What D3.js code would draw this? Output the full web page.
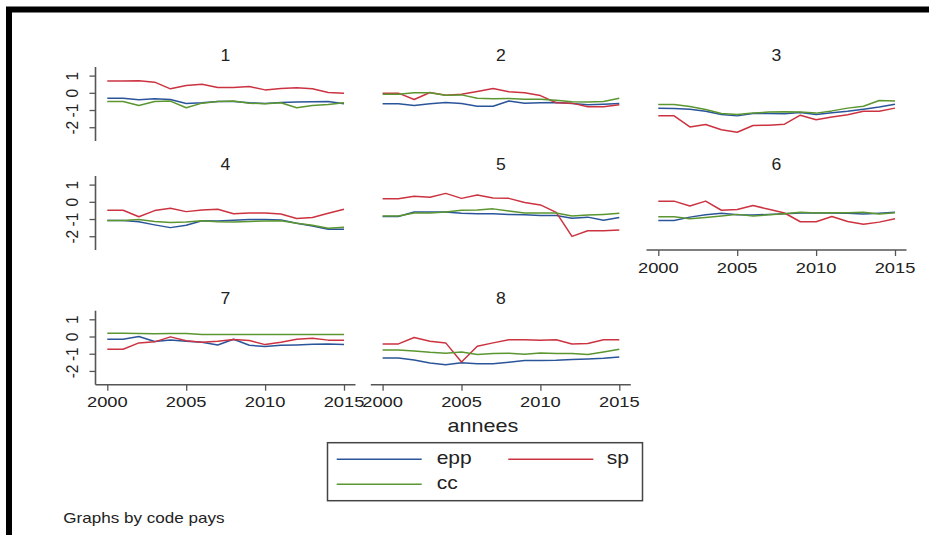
<!DOCTYPE html>
<html>
<head>
<meta charset="utf-8">
<script src="https://cdn.jsdelivr.net/npm/d3@7"></script>
<style>
  html, body { margin: 0; padding: 0; background: #fff; }
  svg { display: block; }
  text { font-family: "Liberation Sans", Arial, Helvetica, sans-serif; fill: #222; }
</style>
</head>
<body>
<svg id="chart" width="929" height="535"></svg>
<script>
// ---------- data ----------
const years = d3.range(2000, 2016);
const panelTitles = ["1", "2", "3", "4", "5", "6", "7", "8"];
const seriesNames = ["epp", "sp", "cc"];
const xTicks = [2000, 2005, 2010, 2015];
const yTicks = [-2, -1, 0, 1];

const epp = [
  [-0.31,-0.31,-0.41,-0.35,-0.39,-0.62,-0.58,-0.50,-0.50,-0.58,-0.62,-0.56,-0.54,-0.52,-0.50,-0.64],
  [-0.64,-0.64,-0.74,-0.64,-0.56,-0.62,-0.78,-0.78,-0.48,-0.60,-0.58,-0.56,-0.62,-0.70,-0.66,-0.62],
  [-0.89,-0.91,-0.95,-1.07,-1.26,-1.34,-1.20,-1.20,-1.22,-1.14,-1.26,-1.16,-1.07,-0.95,-0.83,-0.66],
  [-1.08,-1.08,-1.16,-1.34,-1.50,-1.36,-1.10,-1.12,-1.07,-1.03,-1.03,-1.05,-1.24,-1.40,-1.60,-1.60],
  [-0.85,-0.85,-0.59,-0.59,-0.59,-0.67,-0.69,-0.69,-0.73,-0.75,-0.79,-0.79,-0.95,-0.89,-1.07,-0.91],
  [-1.08,-1.08,-0.89,-0.75,-0.67,-0.75,-0.77,-0.73,-0.69,-0.65,-0.65,-0.65,-0.67,-0.71,-0.67,-0.61],
  [-0.16,-0.16, 0.00,-0.29,-0.20,-0.27,-0.33,-0.49,-0.16,-0.51,-0.58,-0.51,-0.49,-0.45,-0.43,-0.47],
  [-1.25,-1.25,-1.36,-1.54,-1.64,-1.52,-1.58,-1.58,-1.50,-1.40,-1.40,-1.38,-1.33,-1.31,-1.27,-1.19]
];
const sp = [
  [ 0.68, 0.68, 0.70, 0.62, 0.23, 0.43, 0.50, 0.31, 0.31, 0.37, 0.17, 0.25, 0.29, 0.23, 0.02,-0.02],
  [-0.02,-0.02,-0.39, 0.02,-0.14,-0.08, 0.08, 0.25, 0.06, 0.00,-0.16,-0.58,-0.60,-0.81,-0.81,-0.70],
  [-1.34,-1.34,-1.98,-1.84,-2.15,-2.29,-1.90,-1.88,-1.82,-1.30,-1.57,-1.41,-1.28,-1.07,-1.07,-0.89],
  [-0.49,-0.49,-0.87,-0.51,-0.37,-0.57,-0.47,-0.43,-0.69,-0.65,-0.65,-0.71,-0.97,-0.91,-0.67,-0.43],
  [ 0.18, 0.18, 0.32, 0.26, 0.49, 0.20, 0.39, 0.22, 0.20,-0.04,-0.18,-0.61,-2.01,-1.68,-1.68,-1.64],
  [ 0.04, 0.04,-0.24, 0.04,-0.49,-0.45,-0.22,-0.43,-0.65,-1.16,-1.16,-0.85,-1.14,-1.30,-1.18,-0.99],
  [-0.74,-0.74,-0.37,-0.31,-0.02,-0.25,-0.33,-0.27,-0.18,-0.23,-0.47,-0.33,-0.16,-0.10,-0.21,-0.21],
  [-0.43,-0.43,-0.06,-0.27,-0.37,-1.48,-0.57,-0.37,-0.19,-0.19,-0.21,-0.19,-0.43,-0.41,-0.19,-0.19]
];
const cc = [
  [-0.50,-0.50,-0.74,-0.50,-0.48,-0.87,-0.60,-0.50,-0.48,-0.60,-0.64,-0.58,-0.87,-0.74,-0.68,-0.58],
  [-0.08,-0.08, 0.00, 0.00,-0.14,-0.12,-0.31,-0.35,-0.33,-0.37,-0.37,-0.43,-0.52,-0.54,-0.50,-0.31],
  [-0.68,-0.68,-0.79,-0.97,-1.20,-1.26,-1.18,-1.12,-1.10,-1.12,-1.18,-1.05,-0.89,-0.78,-0.45,-0.47],
  [-1.08,-1.08,-1.03,-1.14,-1.20,-1.18,-1.10,-1.16,-1.18,-1.14,-1.12,-1.10,-1.24,-1.36,-1.54,-1.48],
  [-0.83,-0.83,-0.65,-0.65,-0.59,-0.49,-0.47,-0.41,-0.53,-0.65,-0.65,-0.65,-0.83,-0.77,-0.73,-0.67],
  [-0.87,-0.87,-0.99,-0.91,-0.83,-0.73,-0.83,-0.75,-0.69,-0.61,-0.65,-0.63,-0.63,-0.61,-0.71,-0.63],
  [ 0.19, 0.19, 0.18, 0.16, 0.18, 0.18, 0.12, 0.12, 0.12, 0.12, 0.12, 0.12, 0.12, 0.12, 0.12, 0.12],
  [-0.78,-0.78,-0.84,-0.92,-0.97,-0.90,-1.05,-0.99,-0.97,-1.03,-0.96,-0.99,-0.99,-1.05,-0.90,-0.74]
];
const seriesData = [epp, sp, cc];
const seriesColors = ["#2b559a", "#cc3340", "#5b9630"];

// ---------- layout ----------
const svg = d3.select("#chart");
const colX = [95.5, 370.8, 646.5];
const rowTop = [67, 176, 310.7];
const plotW = 260, plotH = 74;
const axisColor = "#555";
const fontStretch = 1.2;

function stretchedText(g, x, y, str, size, anchor, sx) {
  return g.append("text")
    .attr("transform", `translate(${x},${y}) scale(${sx || fontStretch},1)`)
    .attr("text-anchor", anchor || "middle")
    .attr("font-size", size)
    .text(str);
}

// outer frame
svg.append("rect")
  .attr("x", 9).attr("y", 9.5)
  .attr("width", 1000).attr("height", 600)
  .attr("fill", "none").attr("stroke", "#000").attr("stroke-width", 6);

const xScales = colX.map(cx => d3.scaleLinear().domain([2000, 2015]).range([cx + 11.8, cx + 248.5]));
const yScales = rowTop.map(t => d3.scaleLinear().domain([-2.8, 1.5]).range([t + plotH, t]));

// which panels show which axes
const showY = [true, false, false, true, false, false, true, false];
const showX = [false, false, false, false, false, true, true, true];

panelTitles.forEach((title, i) => {
  const r = Math.floor(i / 3), c = i % 3;
  const xs = xScales[c], ys = yScales[r];
  const g = svg.append("g");

  stretchedText(g, colX[c] + plotW / 2, rowTop[r] - 6.5, title, 16, "middle", 1.1);

  if (showY[i]) {
    const ya = g.append("g")
      .attr("transform", `translate(${colX[c]},0)`)
      .call(d3.axisLeft(ys).tickValues(yTicks).tickSize(6).tickFormat(d => String(d)));
    ya.select(".domain").attr("d", `M0,${rowTop[r]}V${rowTop[r] + plotH}`)
      .attr("stroke", axisColor).attr("stroke-width", 1.6);
    ya.selectAll(".tick line").attr("stroke", axisColor).attr("stroke-width", 1.3);
    ya.selectAll(".tick text")
      .attr("x", null).attr("dy", null)
      .attr("font-size", 15.5)
      .attr("font-family", "Liberation Sans, Arial, sans-serif")
      .attr("fill", "#222")
      .attr("text-anchor", "middle")
      .attr("transform", "translate(-18,0) scale(1.1,1) rotate(-90)");
  }
  if (showX[i]) {
    const base = rowTop[r] + plotH;
    const xa = g.append("g")
      .attr("transform", `translate(0,${base})`)
      .call(d3.axisBottom(xs).tickValues(xTicks).tickSize(6).tickFormat(d => String(d)));
    xa.select(".domain").attr("d", `M${colX[c]},0H${colX[c] + plotW}`)
      .attr("stroke", axisColor).attr("stroke-width", 1.6);
    xa.selectAll(".tick line").attr("stroke", axisColor).attr("stroke-width", 1.3);
    xa.selectAll(".tick text").remove();
    xTicks.forEach(t => stretchedText(xa, xs(t), 22.5, String(t), 15, "middle", 1.22));
  }

  const line = d3.line().x((d, k) => xs(years[k])).y(d => ys(d));
  seriesData.forEach((sd, s) => {
    g.append("path")
      .attr("d", line(sd[i]))
      .attr("fill", "none")
      .attr("stroke", seriesColors[s])
      .attr("stroke-width", 1.5)
      .attr("stroke-linejoin", "round");
  });
});

// x-axis title
stretchedText(svg, 483, 432, "annees", 18, "middle", 1.2);

// legend
const lg = svg.append("g");
lg.append("rect").attr("x", 327.5).attr("y", 442.7).attr("width", 315).attr("height", 58)
  .attr("fill", "#fff").attr("stroke", "#444").attr("stroke-width", 1.5);
const legendPos = [
  { lx: 336.7, ty: 459.3, tx: 436.7 },
  { lx: 508.3, ty: 459.3, tx: 606.7 },
  { lx: 336.7, ty: 484.3, tx: 436.7 }
];
seriesNames.forEach((n, s) => {
  const p = legendPos[s];
  lg.append("line").attr("x1", p.lx).attr("x2", p.lx + 85).attr("y1", p.ty).attr("y2", p.ty)
    .attr("stroke", seriesColors[s]).attr("stroke-width", 1.6);
  stretchedText(lg, p.tx, p.ty + 5, n, 17.5, "start", 1.2);
});

// note
stretchedText(svg, 63.3, 523, "Graphs by code pays", 14, "start", 1.22);
</script>
</body>
</html>
